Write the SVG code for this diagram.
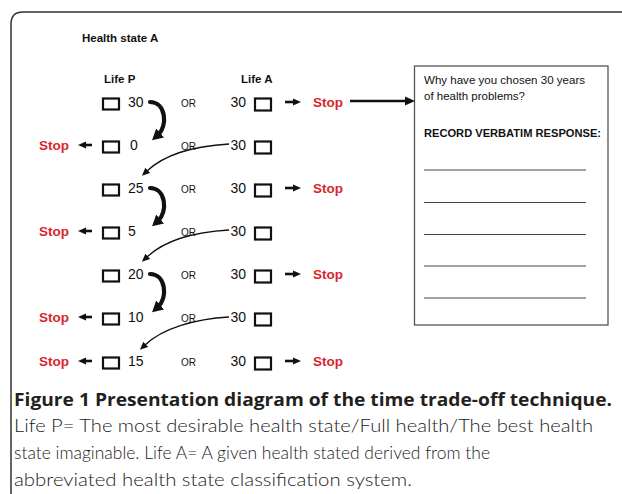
<svg xmlns="http://www.w3.org/2000/svg" width="622" height="494" viewBox="0 0 622 494">
<style>
.t{font-family:"Liberation Sans",Arial,sans-serif;fill:#111}
.num{font-size:14px}
.or{font-size:10px}
.hd{font-size:11.5px;font-weight:bold}
.stop{font-family:"Liberation Sans",Arial,sans-serif;font-size:13.5px;font-weight:bold;fill:#d9252d}
.box{fill:#fff;stroke:#111;stroke-width:2.2}
.sa{stroke:#111;stroke-width:2.6;fill:none}
.thick{stroke:#111;stroke-width:4.2;fill:none;stroke-linecap:round}
.thin{stroke:#111;stroke-width:1.4;fill:none}
.rl{stroke:#444;stroke-width:1}
.cap{font-family:Lato,"Open Sans","Liberation Sans",sans-serif;font-weight:300;fill:#222;font-size:18.5px}
.capb{font-family:"Open Sans","Liberation Sans",sans-serif;fill:#231f20;font-size:18px;font-weight:bold}
</style>
<defs>
<marker id="hs" markerUnits="userSpaceOnUse" markerWidth="8" markerHeight="8" refX="2" refY="4" orient="auto"><path d="M0,0.5 L8,4 L0,7.5 z" fill="#111"/></marker>
<marker id="hb" markerUnits="userSpaceOnUse" markerWidth="10" markerHeight="10" refX="2" refY="5" orient="auto"><path d="M0,0.5 L10,5 L0,9.5 z" fill="#111"/></marker>
<marker id="ht" markerUnits="userSpaceOnUse" markerWidth="12" markerHeight="12" refX="3" refY="6" orient="auto"><path d="M0,0 L11,6 L0,12 z" fill="#111"/></marker>
<marker id="hn" markerUnits="userSpaceOnUse" markerWidth="8" markerHeight="8" refX="1" refY="4" orient="auto"><path d="M0,0.5 L8,4 L0,7.5 z" fill="#111"/></marker>
</defs>

<g id="frame"><path d="M11,494 V24 Q11,12 23,12 H622" fill="none" stroke="#333" stroke-width="1.5"/></g>

<g id="header"><text class="t hd" x="82" y="42">Health state A</text></g>
<g id="lifeP"><text class="t hd" x="104" y="83" font-size="12">Life P</text></g>
<g id="lifeA"><text class="t hd" x="241" y="83">Life A</text></g>

<g id="row1">
<rect class="box" x="103" y="98.5" width="16" height="11"/><text class="t num" x="128" y="107">30</text>
<text class="t or" x="181" y="106.5">OR</text>
<text class="t num" x="246" y="107" text-anchor="end">30</text><rect class="box" x="255" y="98.5" width="16" height="12"/>
<text class="stop" x="313" y="107">Stop</text>
</g>
<g id="row2">
<text class="stop" x="39" y="150">Stop</text>
<rect class="box" x="103" y="141.5" width="16" height="11"/><text class="t num" x="130" y="150">0</text>
<text class="t or" x="181" y="149.5">OR</text>
<text class="t num" x="246" y="150" text-anchor="end">30</text><rect class="box" x="255" y="141.5" width="16" height="12"/>
</g>
<g id="row3">
<rect class="box" x="103" y="184.5" width="16" height="11"/><text class="t num" x="128" y="193">25</text>
<text class="t or" x="181" y="192.5">OR</text>
<text class="t num" x="246" y="193" text-anchor="end">30</text><rect class="box" x="255" y="184.5" width="16" height="12"/>
<text class="stop" x="313" y="193">Stop</text>
</g>
<g id="row4">
<text class="stop" x="39" y="236">Stop</text>
<rect class="box" x="103" y="227.5" width="16" height="11"/><text class="t num" x="128" y="236">5</text>
<text class="t or" x="181" y="235.5">OR</text>
<text class="t num" x="246" y="236" text-anchor="end">30</text><rect class="box" x="255" y="227.5" width="16" height="12"/>
</g>
<g id="row5">
<rect class="box" x="103" y="270.5" width="16" height="11"/><text class="t num" x="128" y="279">20</text>
<text class="t or" x="181" y="278.5">OR</text>
<text class="t num" x="246" y="279" text-anchor="end">30</text><rect class="box" x="255" y="270.5" width="16" height="12"/>
<text class="stop" x="313" y="279">Stop</text>
</g>
<g id="row6">
<text class="stop" x="39" y="322">Stop</text>
<rect class="box" x="103" y="313.5" width="16" height="11"/><text class="t num" x="128" y="322">10</text>
<text class="t or" x="181" y="321.5">OR</text>
<text class="t num" x="246" y="322" text-anchor="end">30</text><rect class="box" x="255" y="313.5" width="16" height="12"/>
</g>
<g id="row7">
<text class="stop" x="39" y="366">Stop</text>
<rect class="box" x="103" y="357.5" width="16" height="11"/><text class="t num" x="128" y="366">15</text>
<text class="t or" x="181" y="365.5">OR</text>
<text class="t num" x="246" y="366" text-anchor="end">30</text><rect class="box" x="255" y="357.5" width="16" height="12"/>
<text class="stop" x="313" y="366">Stop</text>
</g>

<g id="responseBox">
<rect x="414.5" y="66" width="193.5" height="259" fill="#fff" stroke="#555" stroke-width="1.3"/>
<text class="t" x="424" y="83.5" font-size="11.5" textLength="161" lengthAdjust="spacingAndGlyphs">Why have you chosen 30 years</text>
<text class="t" x="424" y="100" font-size="11.5">of health problems?</text>
<text class="t" x="424" y="137" font-size="11" font-weight="bold" textLength="177" lengthAdjust="spacingAndGlyphs">RECORD VERBATIM RESPONSE:</text>
<line class="rl" x1="424" y1="170" x2="586" y2="170"/>
<line class="rl" x1="424" y1="202.5" x2="586" y2="202.5"/>
<line class="rl" x1="424" y1="234.5" x2="586" y2="234.5"/>
<line class="rl" x1="424" y1="266" x2="586" y2="266"/>
<line class="rl" x1="424" y1="298" x2="586" y2="298"/>
</g>

<g id="connectors">
<line class="sa" x1="285" y1="102" x2="295" y2="102" marker-end="url(#hs)"/>
<line class="sa" x1="285" y1="188" x2="295" y2="188" marker-end="url(#hs)"/>
<line class="sa" x1="285" y1="274" x2="295" y2="274" marker-end="url(#hs)"/>
<line class="sa" x1="285" y1="361" x2="295" y2="361" marker-end="url(#hs)"/>
<line class="sa" x1="92" y1="145" x2="84" y2="145" marker-end="url(#hs)"/>
<line class="sa" x1="92" y1="231" x2="84" y2="231" marker-end="url(#hs)"/>
<line class="sa" x1="92" y1="317" x2="84" y2="317" marker-end="url(#hs)"/>
<line class="sa" x1="92" y1="361" x2="84" y2="361" marker-end="url(#hs)"/>
<line class="sa" x1="350" y1="101" x2="407" y2="101" marker-end="url(#hb)"/>
<path class="thick" d="M150,102 C166,102 168,126 158,135" marker-end="url(#ht)"/>
<path class="thick" d="M150,188 C166,188 168,212 158,221" marker-end="url(#ht)"/>
<path class="thick" d="M150,274 C166,274 168,298 158,307" marker-end="url(#ht)"/>
<path class="thin" d="M229,144 C195,146 165,154 147,171" marker-end="url(#hn)"/>
<path class="thin" d="M229,230 C195,232 165,240 147,257" marker-end="url(#hn)"/>
<path class="thin" d="M229,317 C195,319 163,328 145,345" marker-end="url(#hn)"/>
</g>

<g id="caption">
<text class="capb" x="14" y="406" textLength="598" lengthAdjust="spacingAndGlyphs">Figure 1 Presentation diagram of the time trade-off technique.</text>
<text class="cap" x="14" y="432" textLength="579" lengthAdjust="spacingAndGlyphs">Life P= The most desirable health state/Full health/The best health</text>
<text class="cap" x="14" y="459" textLength="476" lengthAdjust="spacingAndGlyphs">state imaginable. Life A= A given health stated derived from the</text>
<text class="cap" x="14" y="486" textLength="398" lengthAdjust="spacingAndGlyphs">abbreviated health state classification system.</text>
</g>
</svg>
